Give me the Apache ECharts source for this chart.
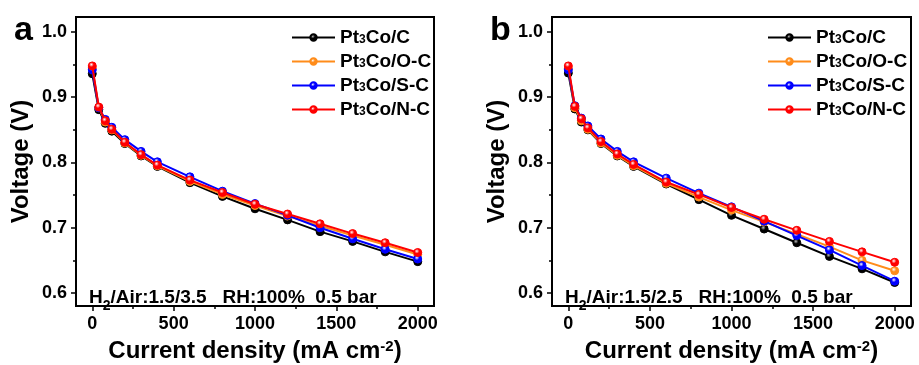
<!DOCTYPE html>
<html>
<head>
<meta charset="utf-8">
<script src="https://cdn.jsdelivr.net/npm/echarts@6/dist/echarts.min.js"></script>
<style>html,body{margin:0;padding:0;background:#fff;}#c{width:919px;height:365px;}</style>
</head>
<body>
<div id="c"></div>
<script>
const currentDensity = [0, 40, 80, 120, 200, 300, 400, 600, 800, 1000, 1200, 1400, 1600, 1800, 2000];
const seriesNames = ['Pt3Co/C', 'Pt3Co/O-C', 'Pt3Co/S-C', 'Pt3Co/N-C'];
const seriesColors = ['#000000', '#FF8C1A', '#0000FF', '#FF0000'];
// Panel a: H2/Air 1.5/3.5
const a_C  = [0.936, 0.881, 0.860, 0.848, 0.829, 0.810, 0.794, 0.769, 0.748, 0.729, 0.712, 0.694, 0.679, 0.663, 0.648];
const a_OC = [0.945, 0.884, 0.862, 0.850, 0.830, 0.811, 0.795, 0.771, 0.751, 0.734, 0.718, 0.703, 0.688, 0.674, 0.659];
const a_SC = [0.942, 0.884, 0.866, 0.854, 0.835, 0.817, 0.801, 0.778, 0.756, 0.737, 0.719, 0.700, 0.683, 0.667, 0.652];
const a_NC = [0.948, 0.885, 0.864, 0.851, 0.831, 0.812, 0.796, 0.773, 0.754, 0.736, 0.721, 0.706, 0.691, 0.677, 0.662];
// Panel b: H2/Air 1.5/2.5
const b_C  = [0.937, 0.882, 0.862, 0.850, 0.829, 0.810, 0.794, 0.767, 0.743, 0.719, 0.698, 0.677, 0.656, 0.637, 0.616];
const b_OC = [0.944, 0.884, 0.864, 0.851, 0.830, 0.811, 0.795, 0.768, 0.747, 0.727, 0.709, 0.690, 0.671, 0.650, 0.634];
const b_SC = [0.942, 0.887, 0.868, 0.856, 0.836, 0.817, 0.801, 0.776, 0.753, 0.732, 0.710, 0.688, 0.666, 0.642, 0.618];
const b_NC = [0.948, 0.886, 0.867, 0.853, 0.832, 0.813, 0.797, 0.770, 0.751, 0.731, 0.713, 0.696, 0.679, 0.663, 0.647];
const xMajorTicks = [0, 500, 1000, 1500, 2000];
const xMinorTicks = [250, 750, 1250, 1750];
const yMajorTicks = [0.6, 0.7, 0.8, 0.9, 1.0];
const yMinorTicks = [0.65, 0.75, 0.85, 0.95];
const panelNotes = ['H{s|2}/Air:1.5/3.5   RH:100%  0.5 bar', 'H{s|2}/Air:1.5/2.5   RH:100%  0.5 bar'];

const FONT = '"Liberation Sans", Arial, sans-serif';
const panelData = [[a_C, a_OC, a_SC, a_NC], [b_C, b_OC, b_SC, b_NC]];
const grids = [
  {left: 76, top: 17, width: 358, height: 289},
  {left: 552, top: 17, width: 359, height: 289}
];
const XMIN = -100, XMAX = 2100, YMIN = 0.58, YMAX = 1.023;

const xAxes = [], yAxes = [], series = [], titles = [], legends = [];
grids.forEach((g, gi) => {
  xAxes.push({
    type: 'value', gridIndex: gi, min: XMIN, max: XMAX, position: 'bottom',
    name: 'Current density (mA cm{sup|-2})', nameLocation: 'middle', nameGap: 33,
    nameTextStyle: {fontFamily: FONT, fontWeight: 'bold', fontSize: 24, color: '#000',
      rich: {sup: {fontFamily: FONT, fontWeight: 'bold', fontSize: 15, color: '#000', verticalAlign: 'top', padding: [0, 0, 10, 0]}}},
    axisLine: {show: false, onZero: false},
    axisTick: {show: true, length: 5, lineStyle: {color: '#000', width: 1.5}, customValues: xMajorTicks},
    axisLabel: {show: true, margin: 9, fontFamily: FONT, fontWeight: 'bold', fontSize: 18, color: '#000',
      customValues: xMajorTicks, formatter: v => String(v)},
    splitLine: {show: false}
  });
  xAxes.push({
    type: 'value', gridIndex: gi, min: XMIN, max: XMAX, position: 'bottom',
    axisLine: {show: false, onZero: false},
    axisTick: {show: true, length: 3, lineStyle: {color: '#000', width: 1.5}, customValues: xMinorTicks},
    axisLabel: {show: false},
    splitLine: {show: false}
  });
  yAxes.push({
    type: 'value', gridIndex: gi, min: YMIN, max: YMAX, position: 'left',
    name: 'Voltage (V)', nameLocation: 'middle', nameGap: 43,
    nameTextStyle: {fontFamily: FONT, fontWeight: 'bold', fontSize: 24, color: '#000'},
    axisLine: {show: false, onZero: false},
    axisTick: {show: true, length: 5, lineStyle: {color: '#000', width: 1.5}, customValues: yMajorTicks},
    axisLabel: {show: true, margin: 9, fontFamily: FONT, fontWeight: 'bold', fontSize: 18, color: '#000',
      customValues: yMajorTicks, formatter: v => v.toFixed(1)},
    splitLine: {show: false}
  });
  yAxes.push({
    type: 'value', gridIndex: gi, min: YMIN, max: YMAX, position: 'left',
    axisLine: {show: false, onZero: false},
    axisTick: {show: true, length: 3, lineStyle: {color: '#000', width: 1.5}, customValues: yMinorTicks},
    axisLabel: {show: false},
    splitLine: {show: false}
  });
  panelData[gi].forEach((vals, si) => {
    const col = seriesColors[si];
    series.push({
      name: seriesNames[si], type: 'line', xAxisIndex: gi * 2, yAxisIndex: gi * 2,
      data: currentDensity.map((x, i) => [x, vals[i]]),
      symbol: 'circle', symbolSize: 8, z: 2 + si,
      lineStyle: {color: col, width: 2},
      itemStyle: {
        color: {type: 'radial', x: 0.4, y: 0.35, r: 0.6,
          colorStops: [{offset: 0, color: si === 0 ? '#bbbbbb' : '#ffffff'}, {offset: 0.45, color: col}, {offset: 1, color: col}]},
        borderColor: col, borderWidth: 1
      },
      emphasis: {disabled: true}
    });
  });
  legends.push({
    data: seriesNames, orient: 'vertical', left: g.left + 210, top: 23,
    itemWidth: 43, itemHeight: 8, itemGap: 5,
    formatter: n => n.replace('3', '{s|3}'),
    textStyle: {fontFamily: FONT, fontWeight: 'bold', fontSize: 19, color: '#000',
      rich: {s: {fontFamily: FONT, fontWeight: 'bold', fontSize: 12, color: '#000', verticalAlign: 'bottom', padding: [0, 0, 1, 0]}}}
  });
  titles.push({
    text: panelNotes[gi], left: g.left + 8, top: 283,
    textStyle: {fontFamily: FONT, fontWeight: 'bold', fontSize: 19, color: '#000',
      rich: {s: {fontFamily: FONT, fontWeight: 'bold', fontSize: 14, color: '#000', verticalAlign: 'bottom', padding: [0, 0, -6, 0]}}}
  });
  titles.push({
    text: gi === 0 ? 'a' : 'b', left: g.left - 67, top: 9,
    textStyle: {fontFamily: FONT, fontWeight: 'bold', fontSize: 34, color: '#000'}
  });
});

const chart = echarts.init(document.getElementById('c'), null, {renderer: 'canvas'});
chart.setOption({
  animation: false,
  backgroundColor: '#fff',
  title: titles,
  legend: legends,
  grid: grids.map(g => Object.assign({show: true, borderColor: '#000', borderWidth: 2, backgroundColor: 'transparent',
    outerBoundsMode: 'none', containLabel: false}, g)),
  xAxis: xAxes,
  yAxis: yAxes,
  series: series
});
</script>
</body>
</html>
